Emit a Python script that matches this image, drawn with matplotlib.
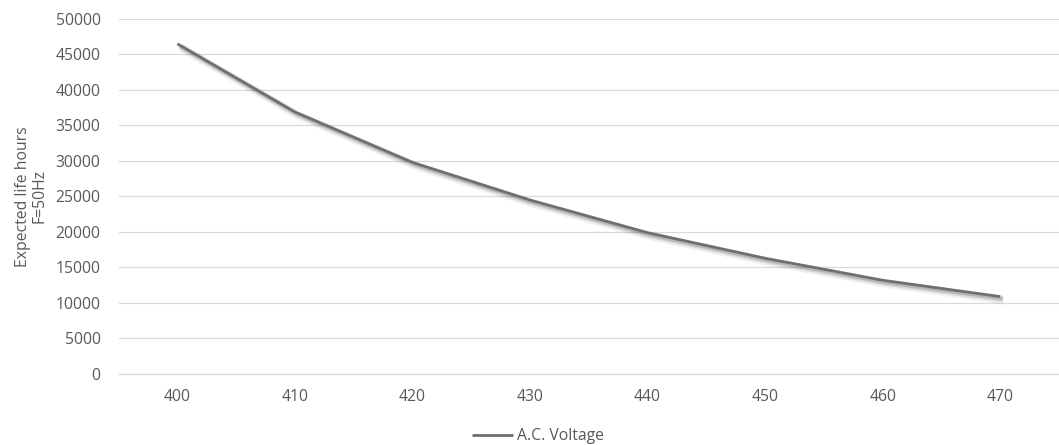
import matplotlib
matplotlib.use("Agg")
import matplotlib.pyplot as plt
import matplotlib.patheffects as pe

voltages = ["400", "410", "420", "430", "440", "450", "460", "470"]
life_hours = [46500, 36900, 29800, 24500, 19900, 16300, 13200, 10900]
y_ticks = [0, 5000, 10000, 15000, 20000, 25000, 30000, 35000, 40000, 45000, 50000]
series_name = "A.C. Voltage"
y_label = "Expected life hours\nF=50Hz"

plt.rcParams['font.family'] = ['Open Sans', 'DejaVu Sans']
text_color = "#595959"

fig = plt.figure(figsize=(10.59, 4.45), dpi=100)
ax = fig.add_axes([0.112, 0.1596, 0.888, 0.7977])

x = list(range(len(voltages)))
line, = ax.plot(x, life_hours, color="#6f6f6f", linewidth=2.0, label=series_name,
                solid_capstyle="butt", zorder=3,
                path_effects=[
                    pe.SimpleLineShadow(offset=(2.5, -2.5), shadow_color="#000000", alpha=0.06, linewidth=6),
                    pe.SimpleLineShadow(offset=(2, -2), shadow_color="#000000", alpha=0.10, linewidth=4),
                    pe.SimpleLineShadow(offset=(1.5, -1.5), shadow_color="#000000", alpha=0.15, linewidth=2.5),
                    pe.Normal()])

ax.set_xlim(-0.5, len(voltages) - 0.5)
ax.set_ylim(0, 50000)
ax.set_xticks(x)
ax.set_xticklabels(voltages)
ax.set_yticks(y_ticks)
ax.set_yticklabels([str(v) for v in y_ticks])

ax.grid(axis="y", color="#d9d9d9", linewidth=0.9)
ax.set_axisbelow(True)
for s in ["top", "right", "left"]:
    ax.spines[s].set_visible(False)
ax.spines["bottom"].set_color("#d9d9d9")
ax.spines["bottom"].set_linewidth(1.0)
ax.tick_params(axis="both", length=0, colors=text_color, labelsize=11.3)
ax.tick_params(axis="x", pad=11)
ax.tick_params(axis="y", pad=13)

ax.set_ylabel(y_label, color=text_color, fontsize=11.3, linespacing=1.05)
ax.yaxis.set_label_coords(-0.076, 0.5)

leg = fig.legend(handles=[line], loc="center", bbox_to_anchor=(0.508, 0.02),
                 frameon=False, fontsize=11.3, handlelength=2.6, handletextpad=0.3)
for t in leg.get_texts():
    t.set_color(text_color)
leg.get_lines()[0].set_path_effects([])
leg.get_lines()[0].set_linewidth(2.0)

fig.savefig("out.png", dpi=100)
